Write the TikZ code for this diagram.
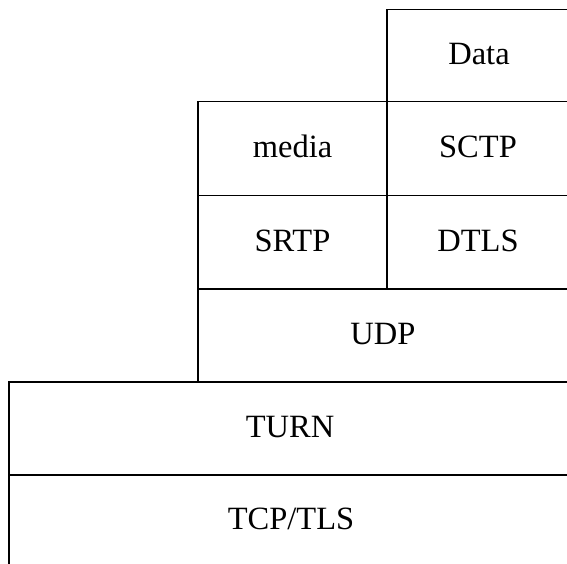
\documentclass[tikz,border=0pt]{standalone}
\usepackage{fontspec}
\setmainfont{Liberation Serif}
\begin{document}
\begin{tikzpicture}[x=1pt,y=-1pt,
  layer/.style={line width=1.8pt,black},
  lbl/.style={anchor=base,inner sep=0pt,font=\fontsize{32.5}{39}\selectfont}]
\useasboundingbox (0,0) rectangle (567,564);
% protocol stack outlines
\draw[layer] (387,289) -- (387,9.5) -- (567,9.5);
\draw[layer] (198,382) -- (198,101.5) -- (567,101.5);
\draw[layer] (198,195.5) -- (567,195.5);
\draw[layer] (198,289) -- (567,289);
\draw[layer] (9,564) -- (9,382) -- (567,382);
\draw[layer] (9,475) -- (567,475);
% layer names
\node[lbl] (data)  at (479,64.5)  {Data};
\node[lbl] (media) at (292.5,157.5) {media};
\node[lbl] (sctp)  at (478,157.5)   {SCTP};
\node[lbl] (srtp)  at (292.5,251) {SRTP};
\node[lbl] (dtls)  at (478,251)   {DTLS};
\node[lbl] (udp)   at (383,344.5) {UDP};
\node[lbl] (turn)  at (290,437.5) {TURN};
\node[lbl] (tcp)   at (291,529.5)   {TCP/TLS};
\end{tikzpicture}
\end{document}
